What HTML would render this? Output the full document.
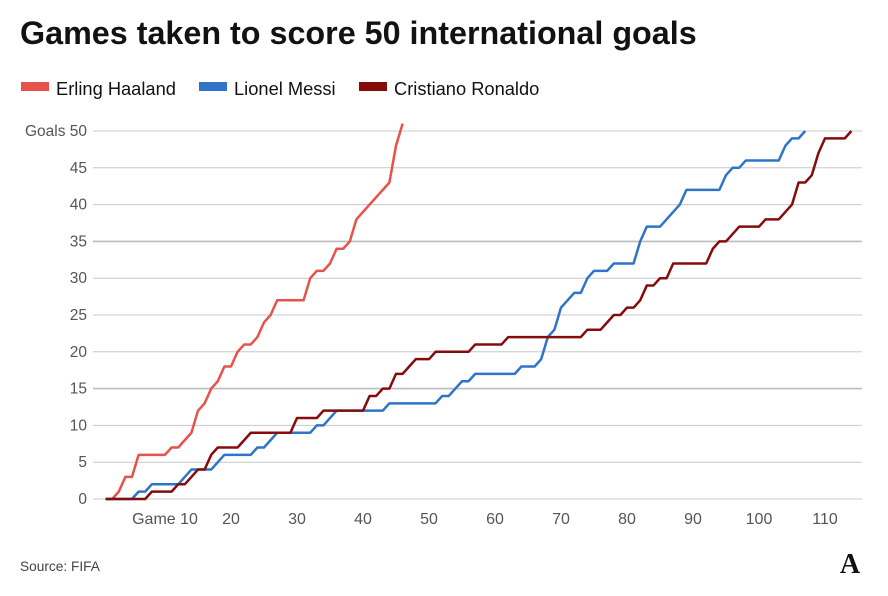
<!DOCTYPE html>
<html><head><meta charset="utf-8"><style>
body{margin:0;background:#fff;width:888px;height:591px;overflow:hidden;font-family:"Liberation Sans",sans-serif;}
svg text{font-family:"Liberation Sans",sans-serif;}
</style></head><body>
<svg id="chart" width="888" height="591" viewBox="0 0 888 591">
<text x="20" y="44" font-size="32.3" font-weight="bold" fill="#121212">Games taken to score 50 international goals</text>
<g>
<rect x="21" y="82" width="28" height="9" fill="#e5534b"/>
<text x="56" y="95" font-size="18.3" fill="#121212">Erling Haaland</text>
<rect x="199" y="82" width="28" height="9" fill="#2f74c8"/>
<text x="234" y="95" font-size="18.3" fill="#121212">Lionel Messi</text>
<rect x="359" y="82" width="28" height="9" fill="#860c0c"/>
<text x="394" y="95" font-size="18.3" fill="#121212">Cristiano Ronaldo</text>
</g>
<g id="grid"></g>
<g id="lines"></g>
<text x="20" y="571" font-size="13.7" fill="#444">Source: FIFA</text>
<text x="850" y="573" font-size="28" font-weight="bold" text-anchor="middle" fill="#121212" style="font-family:'Liberation Serif',serif">A</text>
</svg>
<script>
const yTicks=[0,5,10,15,20,25,30,35,40,45,50];
const xTicks=[10,20,30,40,50,60,70,80,90,100,110];
const haaland=[0,0,1,3,3,6,6,6,6,6,7,7,8,9,12,13,15,16,18,18,20,21,21,22,24,25,27,27,27,27,27,30,31,31,32,34,34,35,38,39,40,41,42,43,48,51];
const messi=[0,0,0,0,0,1,1,2,2,2,2,2,3,4,4,4,4,5,6,6,6,6,6,7,7,8,9,9,9,9,9,9,10,10,11,12,12,12,12,12,12,12,12,13,13,13,13,13,13,13,13,14,14,15,16,16,17,17,17,17,17,17,17,18,18,18,19,22,23,26,27,28,28,30,31,31,31,32,32,32,32,35,37,37,37,38,39,40,42,42,42,42,42,42,44,45,45,46,46,46,46,46,46,48,49,49,50];
const ronaldo=[0,0,0,0,0,0,0,1,1,1,1,2,2,3,4,4,6,7,7,7,7,8,9,9,9,9,9,9,9,11,11,11,11,12,12,12,12,12,12,12,14,14,15,15,17,17,18,19,19,19,20,20,20,20,20,20,21,21,21,21,21,22,22,22,22,22,22,22,22,22,22,22,22,23,23,23,24,25,25,26,26,27,29,29,30,30,32,32,32,32,32,32,34,35,35,36,37,37,37,37,38,38,38,39,40,43,43,44,47,49,49,49,49,50];
const xs=g=>99+6.6*g;
const ys=v=>499-7.36*v;
const NS="http://www.w3.org/2000/svg";
const grid=document.getElementById('grid');
yTicks.forEach(t=>{
  const l=document.createElementNS(NS,'line');
  
  
  l.setAttribute('x1',93);l.setAttribute('x2',862);
  l.setAttribute('y1',ys(t));l.setAttribute('y2',ys(t));
  l.setAttribute('stroke',(t===15||t===35)?'#bbb':'#c8c8c8');
  l.setAttribute('stroke-width',(t===15||t===35)?1.6:1);
  grid.appendChild(l);
  const tx=document.createElementNS(NS,'text');
  
  
  tx.setAttribute('x',87);tx.setAttribute('y',ys(t)+5);
  tx.setAttribute('text-anchor','end');tx.setAttribute('font-size','15.5');tx.setAttribute('fill','#555');
  tx.textContent=(t===50?'Goals ':'')+t;
  grid.appendChild(tx);
});
xTicks.forEach(t=>{
  const tx=document.createElementNS(NS,'text');
  
  
  tx.setAttribute('x',xs(t));tx.setAttribute('y',524);
  tx.setAttribute('text-anchor','middle');tx.setAttribute('font-size','16');tx.setAttribute('fill','#555');
  tx.textContent=(t===10?'Game ':'')+t;
  grid.appendChild(tx);
});
const lines=document.getElementById('lines');
function draw(arr,color,name){
  const p=document.createElementNS(NS,'polyline');
  
  
  p.setAttribute('points',arr.map((v,i)=>xs(i+1)+','+ys(v)).join(' '));
  p.setAttribute('fill','none');p.setAttribute('stroke',color);p.setAttribute('stroke-width','2.5');
  p.setAttribute('stroke-linejoin','round');
  lines.appendChild(p);
}
draw(haaland,'#e5534b','line-haaland');
draw(messi,'#2f74c8','line-messi');
draw(ronaldo,'#860c0c','line-ronaldo');
</script>
</body></html>
